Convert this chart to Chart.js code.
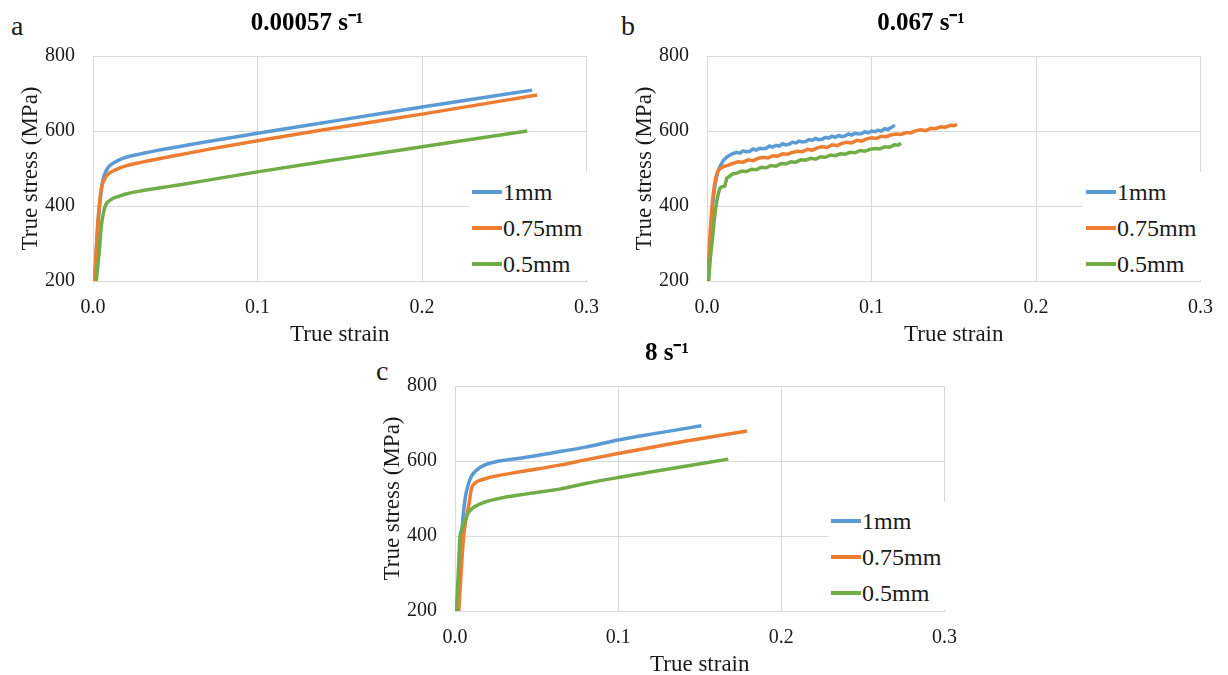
<!DOCTYPE html>
<html>
<head>
<meta charset="utf-8">
<script src="https://cdn.jsdelivr.net/npm/chart.js@4.4.1/dist/chart.umd.min.js"></script>
<style>
  body { margin: 0; width: 1228px; height: 675px; overflow: hidden; background: #fff;
         font-family: "Liberation Serif", "Times New Roman", serif; color: #1a1a1a; position: relative; }
  canvas { position: absolute; }
  .letra { position: absolute; font-size: 28px; line-height: 28px; }
  .leyenda { position: absolute; background: #fff; }
  .fila { position: absolute; left: 0; height: 28px; line-height: 28px; font-size: 24px; white-space: nowrap; }
  .fila span { position: absolute; top: 12px; left: 3px; width: 30px; height: 4px; }
  .fila i { position: absolute; left: 34px; font-style: normal; }
</style>
</head>
<body>

<div class="letra" style="left:11px; top:12px;">a</div>
<div class="letra" style="left:621px; top:12px;">b</div>
<div class="letra" style="left:376px; top:357px;">c</div>

<canvas id="graficoA" width="614" height="346" style="left:0px; top:0px;"></canvas>
<canvas id="graficoB" width="614" height="346" style="left:614px; top:0px;"></canvas>
<canvas id="graficoC" width="610" height="346" style="left:362px; top:330px;"></canvas>

<div class="leyenda" id="leyendaA" style="left:469px; top:172px; width:124px; height:108px;"></div>
<div class="leyenda" id="leyendaB" style="left:1083px; top:172px; width:124px; height:108px;"></div>
<div class="leyenda" id="leyendaC" style="left:828px; top:502px; width:123px; height:108px;"></div>

<script>
// ── Datos ──────────────────────────────────────────
const nombresSeries = ['1mm', '0.75mm', '0.5mm'];
const titulos       = ['0.00057 s⁻¹', '0.067 s⁻¹', '8 s⁻¹'];
const ticksX        = [0, 0.1, 0.2, 0.3];
const ticksY        = [200, 400, 600, 800];

// a) 0.00057 s-1  [true strain, true stress MPa]
const a1mm  = [[0.001,200],[0.003,350],[0.005,440],[0.006,469],[0.008,494],[0.010,507],[0.013,516],[0.016,523],[0.020,530],[0.030,540],[0.040,549],[0.052,558],[0.070,572],[0.100,594],[0.150,629],[0.200,664],[0.267,709]];
const a075mm = [[0.001,200],[0.003,360],[0.005,445],[0.006,461],[0.008,479],[0.010,488],[0.013,495],[0.016,501],[0.020,507],[0.030,517],[0.040,526],[0.052,536],[0.070,551],[0.100,574],[0.150,610],[0.200,645],[0.270,696]];
const a05mm = [[0.002,200],[0.004,290],[0.005,345],[0.0065,385],[0.008,405],[0.010,414],[0.012,420],[0.016,426],[0.020,432],[0.030,441],[0.040,448],[0.052,456],[0.070,469],[0.100,491],[0.150,525],[0.200,558],[0.264,600]];

// b) 0.067 s-1 (señal con ruido, leída punto a punto)
const b1mm  = [[0.0008,200],[0.002,300],[0.0037,416],[0.005,460],[0.0065,490],[0.0078,505],[0.010,522],[0.012,530],[0.014,536],[0.016,540],
  [0.018,543],[0.020,541],[0.022,547],[0.024,545],[0.026,546],[0.028,552],[0.030,549],[0.032,554],[0.034,553],[0.036,554],
  [0.038,560],[0.040,557],[0.042,562],[0.044,560],[0.046,566],[0.048,563],[0.050,565],[0.052,570],[0.054,568],[0.056,573],
  [0.058,571],[0.060,572],[0.062,577],[0.064,575],[0.066,580],[0.068,577],[0.070,578],[0.072,583],[0.074,581],[0.076,586],
  [0.078,583],[0.080,588],[0.082,585],[0.084,587],[0.086,592],[0.088,589],[0.090,594],[0.092,592],[0.094,593],[0.096,598],
  [0.098,595],[0.100,600],[0.102,598],[0.104,602],[0.106,600],[0.108,606],[0.110,604],[0.112,610],[0.1135,613],[0.114,611]];
const b075mm = [[0.0005,200],[0.0015,300],[0.0025,370],[0.0035,420],[0.0045,455],[0.0055,478],[0.0066,493],[0.008,500],[0.010,505],[0.013,509],[0.016,514],
  [0.019,518],[0.022,517],[0.025,523],[0.028,521],[0.031,527],[0.034,530],[0.037,528],[0.040,534],[0.043,533],[0.046,539],
  [0.049,538],[0.052,543],[0.055,546],[0.058,545],[0.061,551],[0.064,549],[0.067,555],[0.070,558],[0.073,556],[0.076,563],
  [0.079,561],[0.082,567],[0.085,570],[0.088,568],[0.091,575],[0.094,573],[0.097,579],[0.100,582],[0.103,580],[0.106,586],
  [0.109,585],[0.112,590],[0.115,592],[0.118,591],[0.121,596],[0.124,595],[0.127,601],[0.130,603],[0.133,601],[0.136,607],
  [0.139,606],[0.142,611],[0.145,610],[0.148,615],[0.150,614],[0.152,618]];
const b05mm = [[0.001,200],[0.002,260],[0.003,300],[0.004,345],[0.005,385],[0.006,415],[0.007,435],[0.0078,447],[0.009,451],[0.0108,453],[0.012,474],[0.0157,486],
  [0.018,487],[0.021,493],[0.024,492],[0.027,498],[0.030,497],[0.033,503],[0.036,502],[0.039,508],[0.042,506],[0.045,513],
  [0.048,512],[0.051,518],[0.054,517],[0.057,523],[0.060,522],[0.063,527],[0.066,525],[0.069,531],[0.072,530],[0.075,536],
  [0.078,534],[0.081,539],[0.084,538],[0.087,543],[0.090,542],[0.093,548],[0.096,546],[0.099,551],[0.102,553],[0.105,552],
  [0.108,558],[0.111,557],[0.114,563],[0.116,562],[0.118,567]];

// c) 8 s-1
const c1mm  = [[0.0013,200],[0.003,330],[0.0045,430],[0.0064,505],[0.008,535],[0.0099,558],[0.013,575],[0.018,589],[0.025,598],[0.041,608],[0.060,622],[0.080,637],[0.100,656],[0.125,675],[0.151,694]];
const c075mm = [[0.0023,200],[0.004,320],[0.0053,399],[0.0068,445],[0.0087,488],[0.010,525],[0.012,540],[0.018,552],[0.025,560],[0.041,572],[0.064,589],[0.080,603],[0.100,620],[0.140,652],[0.179,680]];
const c05mm = [[0.0009,200],[0.002,300],[0.003,395],[0.004,416],[0.006,440],[0.0087,465],[0.012,478],[0.018,490],[0.030,503],[0.045,513],[0.064,525],[0.080,540],[0.100,556],[0.130,578],[0.1675,605]];

const colores = ['#5B9BD5', '#ED7D31', '#70AD47'];
const fuente  = '"Liberation Serif", "Times New Roman", serif';

function crearGrafico(idCanvas, titulo, series, suave) {
    let ctx = document.getElementById(idCanvas).getContext('2d');

    return new Chart(ctx, {
        type: 'scatter',
        data: {
            datasets: series.map((s, i) => ({
                label: nombresSeries[i],
                data: s.map(p => ({ x: p[0], y: p[1] })),
                showLine: true,
                borderColor: colores[i],
                backgroundColor: colores[i],
                borderWidth: 3.5,
                pointRadius: 0,
                cubicInterpolationMode: suave ? 'monotone' : 'default',
                tension: 0,
                order: 2 - i
            }))
        },
        options: {
            responsive: false,
            animation: false,
            events: [],
            layout: { padding: { left: 20, right: 20, top: 0, bottom: 0 } },
            plugins: {
                legend: { display: false },
                tooltip: { enabled: false },
                title: {
                    display: true,
                    text: titulo,
                    color: '#000',
                    font: { family: fuente, size: 25, weight: 'bold' },
                    padding: { top: 9, bottom: 17 }
                }
            },
            scales: {
                x: {
                    type: 'linear',
                    min: ticksX[0],
                    max: ticksX[ticksX.length - 1],
                    afterBuildTicks: s => { s.ticks = ticksX.map(v => ({ value: v })); },
                    afterFit: s => { s.height = 65; },
                    grid: { color: '#d9d9d9', drawTicks: false },
                    border: { color: '#d9d9d9' },
                    ticks: {
                        padding: 15,
                        color: '#1a1a1a',
                        font: { family: fuente, size: 20 },
                        callback: v => v.toFixed(1)
                    },
                    title: {
                        display: true,
                        text: 'True strain',
                        color: '#1a1a1a',
                        font: { family: fuente, size: 23 },
                        padding: { top: 0, bottom: -3 }
                    }
                },
                y: {
                    min: ticksY[0],
                    max: ticksY[ticksY.length - 1],
                    afterBuildTicks: s => { s.ticks = ticksY.map(v => ({ value: v })); },
                    afterFit: s => { s.width = 73; },
                    grid: { color: '#d9d9d9', drawTicks: false },
                    border: { color: '#d9d9d9' },
                    ticks: {
                        padding: 18,
                        color: '#1a1a1a',
                        font: { family: fuente, size: 20 }
                    },
                    title: {
                        display: true,
                        text: 'True stress (MPa)',
                        color: '#1a1a1a',
                        font: { family: fuente, size: 23 },
                        padding: { top: -3, bottom: 0 }
                    }
                }
            }
        }
    });
}

// leyenda dentro del área de trazado (como en Excel)
function dibujarLeyenda(idCaja, filasY) {
    const caja = document.getElementById(idCaja);
    const top  = parseFloat(caja.style.top);
    let html = '';
    nombresSeries.forEach((nombre, i) => {
        html += `<div class="fila" style="top:${filasY[i] - top - 14}px">
                   <span style="background:${colores[i]}"></span><i>${nombre}</i>
                 </div>`;
    });
    caja.innerHTML = html;
}

crearGrafico('graficoA', titulos[0], [a1mm, a075mm, a05mm], true);
crearGrafico('graficoB', titulos[1], [b1mm, b075mm, b05mm], false);
crearGrafico('graficoC', titulos[2], [c1mm, c075mm, c05mm], true);

dibujarLeyenda('leyendaA', [192, 228, 264]);
dibujarLeyenda('leyendaB', [192, 228, 264]);
dibujarLeyenda('leyendaC', [521, 557, 593]);
</script>
</body>
</html>
